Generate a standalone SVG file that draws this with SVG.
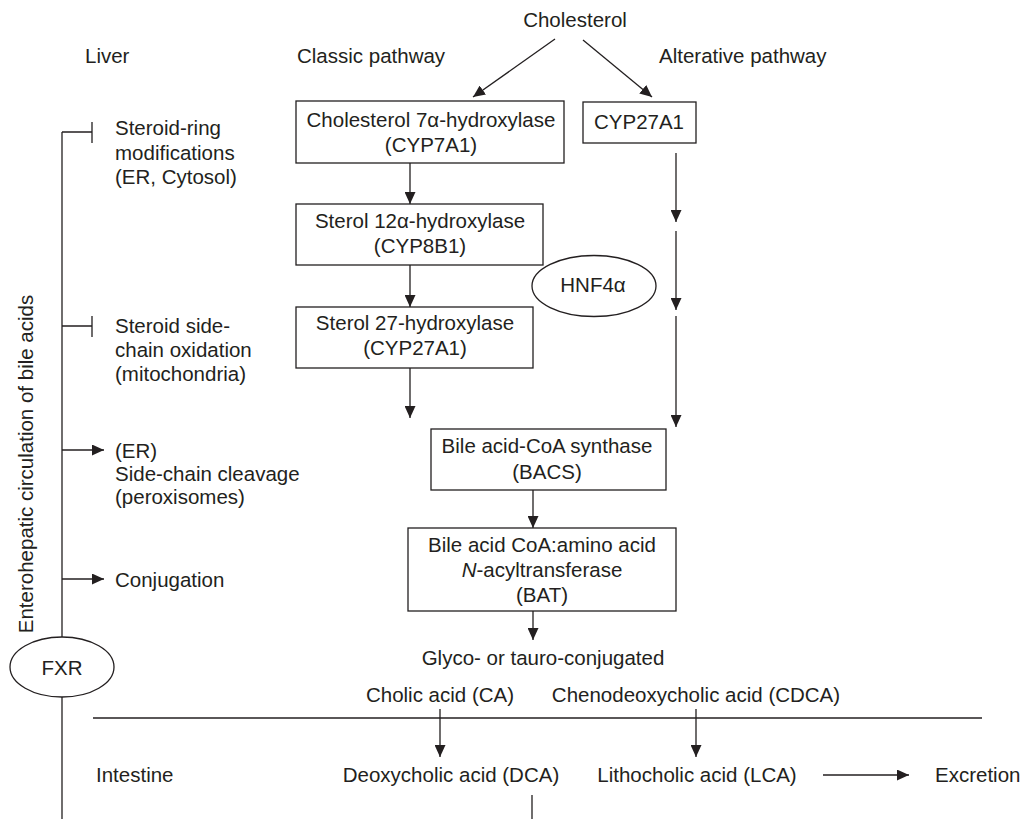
<svg xmlns="http://www.w3.org/2000/svg" width="1020" height="819" viewBox="0 0 1020 819">
<defs>
<marker id="ah" viewBox="0 0 12 11" refX="12" refY="5.5" markerWidth="12" markerHeight="11" markerUnits="userSpaceOnUse" orient="auto"><path d="M0,0 L12,5.5 L0,11 z" fill="#231f20"/></marker>
<style>
text{font-family:"Liberation Sans",Arial,sans-serif;font-size:20.5px;fill:#231f20}
.m{text-anchor:middle}
.b{fill:#fff;stroke:#231f20;stroke-width:1.3}
.l{stroke:#231f20;stroke-width:1.3;fill:none}
.a{stroke:#231f20;stroke-width:1.3;fill:none;marker-end:url(#ah)}
</style>
</defs>
<rect width="1020" height="819" fill="#fff"/>
<g id="labels">
<text class="m" x="575" y="27">Cholesterol</text>
<text x="85" y="63">Liver</text>
<text x="297" y="63">Classic pathway</text>
<text x="659" y="63">Alterative pathway</text>
<text x="115" y="135">Steroid-ring</text>
<text x="115" y="159.5">modifications</text>
<text x="115" y="184">(ER, Cytosol)</text>
<text x="115" y="333">Steroid side-</text>
<text x="115" y="357">chain oxidation</text>
<text x="115" y="381">(mitochondria)</text>
<text x="115" y="458">(ER)</text>
<text x="115" y="481">Side-chain cleavage</text>
<text x="115" y="504">(peroxisomes)</text>
<text x="115" y="587">Conjugation</text>
<text class="m" transform="translate(33,464) rotate(-90)">Enterohepatic circulation of bile acids</text>
<text class="m" x="543" y="665">Glyco- or tauro-conjugated</text>
<text class="m" x="440" y="702">Cholic acid (CA)</text>
<text class="m" x="696" y="702">Chenodeoxycholic acid (CDCA)</text>
<text x="96" y="782">Intestine</text>
<text class="m" x="451" y="782">Deoxycholic acid (DCA)</text>
<text class="m" x="697" y="782">Lithocholic acid (LCA)</text>
<text x="935" y="782">Excretion</text>
</g>
<g id="n1"><rect class="b" x="296" y="101" width="268" height="62"/><text class="m" x="431" y="127">Cholesterol 7α-hydroxylase</text><text class="m" x="431" y="152">(CYP7A1)</text></g>
<g id="n2"><rect class="b" x="583" y="102" width="113" height="41"/><text class="m" x="639" y="129">CYP27A1</text></g>
<g id="n3"><rect class="b" x="296" y="204" width="247" height="61"/><text class="m" x="420" y="228">Sterol 12α-hydroxylase</text><text class="m" x="420" y="253">(CYP8B1)</text></g>
<g id="n4"><ellipse class="b" cx="594" cy="286" rx="62" ry="30.5"/><text class="m" x="593" y="292">HNF4α</text></g>
<g id="n5"><rect class="b" x="296" y="307" width="237" height="61"/><text class="m" x="415" y="330">Sterol 27-hydroxylase</text><text class="m" x="415" y="355">(CYP27A1)</text></g>
<g id="n6"><rect class="b" x="431" y="429" width="235" height="61"/><text class="m" x="547" y="453">Bile acid-CoA synthase</text><text class="m" x="547" y="478.5">(BACS)</text></g>
<g id="n7"><rect class="b" x="408" y="528" width="268" height="83"/><text class="m" x="542" y="552">Bile acid CoA:amino acid</text><text class="m" x="542" y="577"><tspan font-style="italic">N</tspan>-acyltransferase</text><text class="m" x="542" y="602">(BAT)</text></g>
<g id="n8"><ellipse class="b" cx="62" cy="667" rx="52" ry="30"/><text class="m" x="62" y="675">FXR</text></g>
<g id="connectors">
<path class="a" d="M555,39 L473,97"/>
<path class="a" d="M583,40 L652,97"/>
<path class="a" d="M410,163 V204"/>
<path class="a" d="M410,265 V307"/>
<path class="a" d="M410,368 V418"/>
<path class="a" d="M676,153 V222"/>
<path class="a" d="M676,231 V310"/>
<path class="a" d="M676,316 V427"/>
<path class="a" d="M533,490 V528"/>
<path class="a" d="M533,611 V640"/>
<path class="l" d="M93,718 H982"/>
<path class="a" d="M440,709 V757"/>
<path class="a" d="M696,709 V757"/>
<path class="a" d="M823,775 H909"/>
<path class="l" d="M532,795 V819"/>
<path class="l" d="M62,132 V637"/>
<path class="l" d="M62,697 V819"/>
<path class="l" d="M62,132 H92 M92,122 V143"/>
<path class="l" d="M62,326 H92 M92,316 V337"/>
<path class="a" d="M62,450 H104"/>
<path class="a" d="M62,579 H104"/>
</g>
</svg>
